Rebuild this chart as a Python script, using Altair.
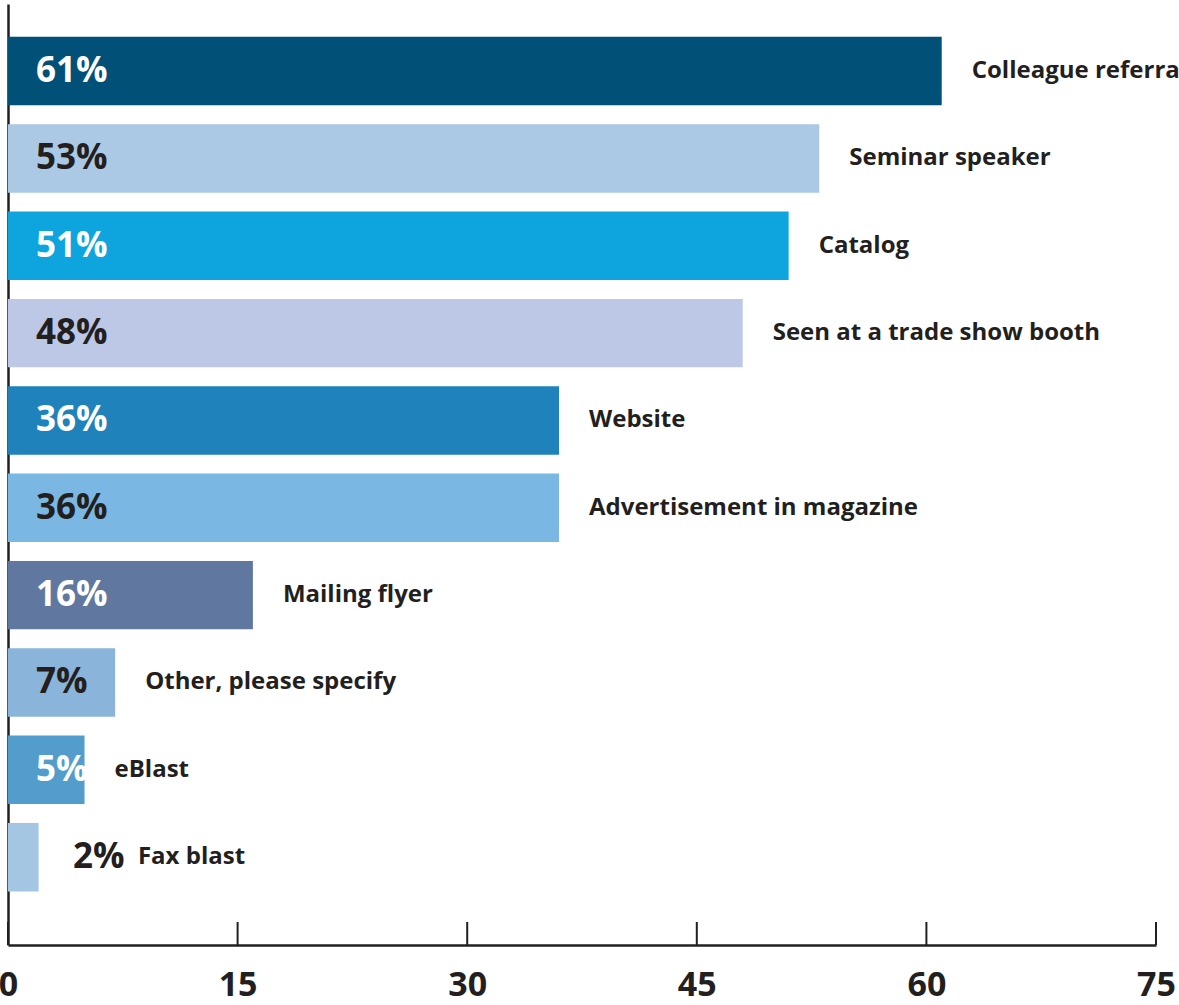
import altair as alt
import pandas as pd

# Survey responses: how respondents first heard about the product
categories = [
    "Colleague referral",
    "Seminar speaker",
    "Catalog",
    "Seen at a trade show booth",
    "Website",
    "Advertisement in magazine",
    "Mailing flyer",
    "Other, please specify",
    "eBlast",
    "Fax blast",
]
values = [61, 53, 51, 48, 36, 36, 16, 7, 5, 2]
bar_colors = [
    "#005078", "#abc9e4", "#0ea5de", "#bcc8e6", "#1f82bb",
    "#7ab8e3", "#6078a0", "#8ab4d9", "#529dcb", "#a5c6e2",
]
pct_colors = [
    "#ffffff", "#231f20", "#ffffff", "#231f20", "#ffffff",
    "#231f20", "#ffffff", "#231f20", "#ffffff", "#231f20",
]
tick_values = [0, 15, 30, 45, 60, 75]

df = pd.DataFrame({
    "category": categories,
    "value": values,
    "bar_color": bar_colors,
    "pct_color": pct_colors,
    "pct": [f"{v}%" for v in values],
})
ticks_df = pd.DataFrame({"tick": tick_values})

FONT = "Open Sans"
INK = "#231f20"

x_scale = alt.Scale(domain=[0, 75], nice=False, zero=True)
y_scale = alt.Scale(paddingInner=0.216, paddingOuter=0.495, align=0.38)

y_enc = alt.Y("category:N", sort=categories, scale=y_scale, title=None,
              axis=alt.Axis(labels=False, ticks=False, domain=True,
                            domainColor=INK, domainWidth=2.5, grid=False))

bars = alt.Chart(df).mark_bar().encode(
    x=alt.X("value:Q", scale=x_scale, title=None,
            axis=alt.Axis(values=tick_values, format="d", ticks=False,
                          domainColor=INK, domainWidth=2.5, grid=False,
                          labelFont=FONT, labelFontWeight="bold",
                          labelFontSize=34, labelColor=INK,
                          labelPadding=23, labelFlush=False)),
    y=y_enc,
    color=alt.Color("bar_color:N", scale=None, legend=None),
)

# Percentages sit inside the bar; the tiniest bar gets its label just past the end
pct_labels = alt.Chart(df).transform_calculate(
    px="datum.value < 3 ? 4.25 : 1.83"
).mark_text(
    align="left", baseline="middle", font=FONT, fontWeight="bold", fontSize=35
).encode(
    x=alt.X("px:Q", scale=x_scale),
    y=alt.Y("category:N", sort=categories, scale=y_scale),
    text="pct:N",
    color=alt.Color("pct_color:N", scale=None, legend=None),
)

cat_labels = alt.Chart(df).transform_calculate(
    lx="datum.value < 3 ? datum.value + 4.53 : datum.value"
).mark_text(
    align="left", baseline="middle", dx=30, font=FONT, fontWeight="bold",
    fontSize=24, color=INK
).encode(
    x=alt.X("lx:Q", scale=x_scale),
    y=alt.Y("category:N", sort=categories, scale=y_scale),
    text="category:N",
)

# Ticks rise upward from the baseline
tick_marks = alt.Chart(ticks_df).mark_rule(color=INK, strokeWidth=2).encode(
    x=alt.X("tick:Q", scale=x_scale),
    y=alt.value(918),
    y2=alt.value(941),
)

chart = alt.layer(bars, pct_labels, cat_labels, tick_marks).properties(
    width=1148,
    height=941,
    background="white",
    padding={"left": 8, "top": 4, "right": 23, "bottom": 60},
    autosize=alt.AutoSizeParams(type="none"),
).configure_view(stroke=None, strokeWidth=0)

chart.save("out.html", embed_options={"renderer": "svg", "actions": False})
